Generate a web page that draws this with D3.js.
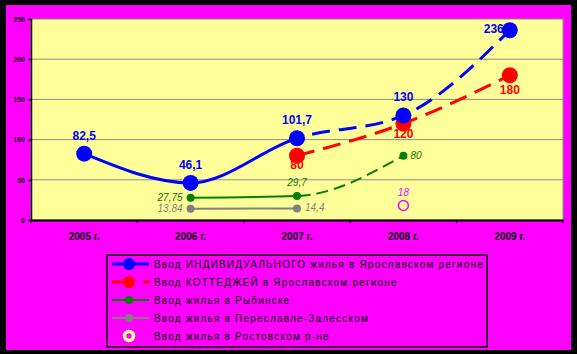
<!DOCTYPE html>
<html>
<head>
<meta charset="utf-8">
<script src="https://cdn.jsdelivr.net/npm/d3@7"></script>
<style>
  body { margin: 0; background: #000; }
  svg { display: block; font-family: Arial, "Liberation Sans", sans-serif; }
</style>
</head>
<body>
<div id="chart"></div>
<script>
// Housing commissioning, Yaroslavl region (thousand sq. m)
const years = ["2005 г.", "2006 г.", "2007 г.", "2008 г.", "2009 г."];
const yTicks = [0, 50, 100, 150, 200, 250];

const individual = [
  { year: "2005 г.", value: 82.5, label: "82,5" },
  { year: "2006 г.", value: 46.1, label: "46,1" },
  { year: "2007 г.", value: 101.7, label: "101,7" },
  { year: "2008 г.", value: 130, label: "130" },
  { year: "2009 г.", value: 236, label: "236" }
];
const cottages = [
  { year: "2007 г.", value: 80, label: "80" },
  { year: "2008 г.", value: 120, label: "120" },
  { year: "2009 г.", value: 180, label: "180" }
];
const rybinsk = [
  { year: "2006 г.", value: 27.75, label: "27,75" },
  { year: "2007 г.", value: 29.7, label: "29,7" },
  { year: "2008 г.", value: 80, label: "80" }
];
const pereslavl = [
  { year: "2006 г.", value: 13.84, label: "13,84" },
  { year: "2007 г.", value: 14.4, label: "14,4" }
];
const rostov = [
  { year: "2008 г.", value: 18, label: "18" }
];

const legendLabels = [
  "Ввод ИНДИВИДУАЛЬНОГО жилья в Ярославском регионе",
  "Ввод КОТТЕДЖЕЙ в Ярославском регионе",
  "Ввод жилья в Рыбинске",
  "Ввод жилья в Переславле-Залесском",
  "Ввод жилья в Ростовском р-не"
];

const config = {
  width: 577, height: 354,
  plot: { left: 31, right: 563, top: 19, bottom: 220 },
  colors: {
    frame: "#FF00FF", plot: "#FFFF99", grid: "#8C8C8C",
    blue: "#0000FF", red: "#FF0000", green: "#008000", grey: "#808080", pink: "#FF00FF"
  }
};

const svg = d3.select("#chart").append("svg")
  .attr("width", config.width)
  .attr("height", config.height);

// background frame
svg.append("rect").attr("width", config.width).attr("height", config.height).attr("fill", "#000");
svg.append("rect").attr("x", 6).attr("y", 5).attr("width", 565).attr("height", 345)
  .attr("fill", config.colors.frame);

const p = config.plot;
const x = d3.scaleBand().domain(years).range([p.left, p.right]);
const y = d3.scaleLinear().domain([0, 250]).range([p.bottom, p.top]);
const cx = d => x(d.year) + x.bandwidth() / 2;
const cy = d => y(d.value);

// plot area
svg.append("rect")
  .attr("x", p.left).attr("y", p.top)
  .attr("width", p.right - p.left).attr("height", p.bottom - p.top)
  .attr("fill", config.colors.plot)
  .attr("stroke", config.colors.grid).attr("stroke-width", 1);

svg.append("g").selectAll("line")
  .data(yTicks.filter(d => d > 0 && d < 250))
  .join("line")
  .attr("x1", p.left).attr("x2", p.right)
  .attr("y1", d => y(d)).attr("y2", d => y(d))
  .attr("stroke", config.colors.grid).attr("stroke-width", 1);

// axes
const yAxis = svg.append("g")
  .attr("transform", `translate(${p.left},0)`)
  .call(d3.axisLeft(y).tickValues(yTicks).tickSize(3).tickPadding(3));
yAxis.select(".domain").attr("stroke", "#000").attr("stroke-width", 1.5);
yAxis.selectAll("text").style("font-size", "7px").style("font-weight", "bold").attr("fill", "#000");

const xAxis = svg.append("g")
  .attr("transform", `translate(0,${p.bottom})`)
  .call(d3.axisBottom(x).tickSize(0).tickPadding(0));
xAxis.select(".domain").attr("stroke", "#000").attr("stroke-width", 2);
xAxis.selectAll("text")
  .attr("y", 20).attr("dy", 0)
  .style("font-size", "10px").style("font-weight", "bold").attr("fill", "#000");
xAxis.append("g").selectAll("line")
  .data(years.map(d => x(d)).concat([p.right]))
  .join("line")
  .attr("x1", d => d).attr("x2", d => d).attr("y1", 0).attr("y2", 3)
  .attr("stroke", "#000");

// clip regions for solid / dashed parts of each series
const defs = svg.append("defs");
function clip(id, x0, x1) {
  defs.append("clipPath").attr("id", id).append("rect")
    .attr("x", x0).attr("y", 0).attr("width", x1 - x0).attr("height", config.height);
}
const x2007 = x("2007 г.") + x.bandwidth() / 2;
clip("left07", 0, x2007);
clip("right07", x2007, config.width);

const line = d3.line().x(cx).y(cy).curve(d3.curveMonotoneX);

function series(data, color, width, dash, solidClip, dashClip) {
  const g = svg.append("g");
  if (solidClip) {
    g.append("path").attr("d", line(data)).attr("fill", "none")
      .attr("stroke", color).attr("stroke-width", width)
      .attr("clip-path", `url(#${solidClip})`);
  }
  if (dashClip) {
    g.append("path").attr("d", line(data)).attr("fill", "none")
      .attr("stroke", color).attr("stroke-width", width)
      .attr("stroke-dasharray", dash)
      .attr("clip-path", `url(#${dashClip})`);
  }
  return g;
}

series(pereslavl, config.colors.grey, 2, null, null, null)
  .append("path").attr("d", line(pereslavl)).attr("fill", "none")
  .attr("stroke", config.colors.grey).attr("stroke-width", 2);
series(rybinsk, config.colors.green, 2, "12,6", "left07", "right07");
series(cottages, config.colors.red, 3, "18,9", null, "right07");
series(individual, config.colors.blue, 3, "18,9", "left07", "right07");

function markers(data, color, r) {
  svg.append("g").selectAll("circle").data(data).join("circle")
    .attr("cx", cx).attr("cy", cy).attr("r", r).attr("fill", color);
}
markers(pereslavl, config.colors.grey, 4);
markers(rybinsk, config.colors.green, 4);
markers(cottages, config.colors.red, 8);
markers(individual, config.colors.blue, 8);
svg.append("g").selectAll("circle").data(rostov).join("circle")
  .attr("cx", cx).attr("cy", cy).attr("r", 5)
  .attr("fill", "none").attr("stroke", config.colors.pink).attr("stroke-width", 1.5);

// data labels
function labels(data, color, opts) {
  svg.append("g").selectAll("text").data(data).join("text")
    .attr("x", (d, i) => cx(d) + (opts.dx ? opts.dx(d, i) : 0))
    .attr("y", (d, i) => cy(d) + opts.dy(d, i))
    .attr("text-anchor", (d, i) => opts.anchor(d, i))
    .attr("fill", color)
    .style("font-size", opts.size)
    .style("font-weight", opts.bold ? "bold" : "normal")
    .style("font-style", opts.italic ? "italic" : "normal")
    .text(d => d.label);
}
labels(individual, config.colors.blue, {
  size: "12px", bold: true,
  dx: (d, i) => (i === 4 ? -6 : 0),
  dy: (d, i) => (i === 4 ? 3 : -14),
  anchor: (d, i) => (i === 4 ? "end" : "middle")
});
labels(cottages, config.colors.red, {
  size: "12px", bold: true,
  dy: (d, i) => [13, 14, 19][i],
  anchor: () => "middle"
});
labels(rybinsk, config.colors.green, {
  size: "10px", italic: true,
  dx: (d, i) => [-8, 0, 7][i],
  dy: (d, i) => [3, -10, 3][i],
  anchor: (d, i) => ["end", "middle", "start"][i]
});
labels(pereslavl, config.colors.grey, {
  size: "10px", italic: true,
  dx: (d, i) => [-8, 8][i],
  dy: () => 3,
  anchor: (d, i) => ["end", "start"][i]
});
labels(rostov, config.colors.pink, {
  size: "10px", italic: true,
  dy: () => -10,
  anchor: () => "middle"
});

// legend
const legend = svg.append("g");
legend.append("rect")
  .attr("x", 107).attr("y", 255).attr("width", 380).attr("height", 92)
  .attr("fill", "none").attr("stroke", "#000").attr("stroke-width", 1.5);

const legendItems = [
  { color: config.colors.blue, width: 3, r: 6, dash: null },
  { color: config.colors.red, width: 3, r: 6, dash: "18,13" },
  { color: config.colors.green, width: 2, r: 4, dash: null },
  { color: config.colors.grey, width: 2, r: 4, dash: null },
  { ring: true }
];
legendItems.forEach((item, i) => {
  const row = legend.append("g").attr("transform", `translate(0,${264 + i * 18})`);
  if (item.ring) {
    row.append("circle").attr("cx", 129).attr("cy", 0).attr("r", 4.5)
      .attr("fill", config.colors.frame).attr("stroke", "#FFFF99").attr("stroke-width", 3.5);
  } else {
    row.append("line").attr("x1", 112).attr("x2", 149).attr("y1", 0).attr("y2", 0)
      .attr("stroke", item.color).attr("stroke-width", item.width)
      .attr("stroke-dasharray", item.dash);
    row.append("circle").attr("cx", 129).attr("cy", 0).attr("r", item.r).attr("fill", item.color);
  }
  row.append("text")
    .attr("x", 154).attr("y", 4)
    .style("font-size", "10px")
    .style("letter-spacing", "1.2px")
    .attr("fill", "#000")
    .text(legendLabels[i]);
});
</script>
</body>
</html>
